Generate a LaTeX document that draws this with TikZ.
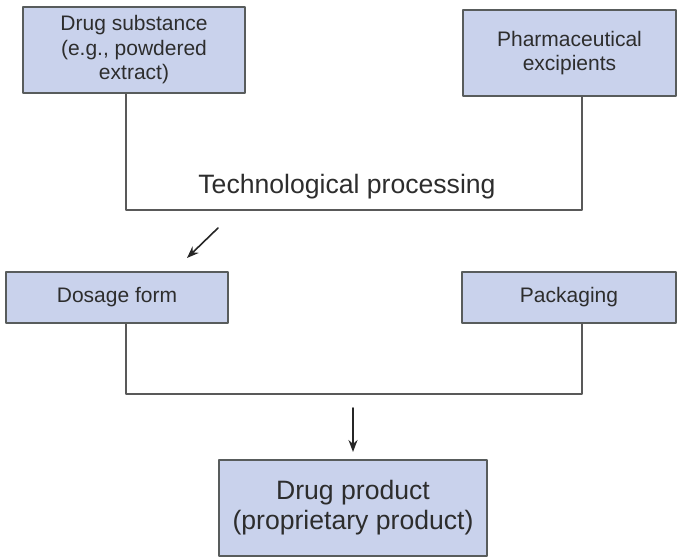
\documentclass[tikz,border=0pt]{standalone}
\usepackage{fontspec}
\setmainfont{Liberation Sans}
\usetikzlibrary{arrows.meta}
\definecolor{boxfill}{RGB}{201,210,236}
\definecolor{boxline}{RGB}{88,92,92}
\definecolor{txt}{RGB}{45,45,45}
\begin{document}
\begin{tikzpicture}[x=1pt,y=-1pt,line join=round,line cap=round,
	box/.style={draw=boxline,line width=1.6pt,fill=boxfill,inner sep=0pt,
		align=center,text=txt,font=\fontsize{21}{24.5}\selectfont},
	bigbox/.style={box,font=\fontsize{26.6}{30}\selectfont},
	link/.style={draw=black!65,line width=1.3pt},
	>={Stealth[length=12pt,width=9pt]}]
	\useasboundingbox (0,0) rectangle (678,557);
	% raw materials
	\node[box,minimum width=222pt,minimum height=86pt] (ds) at (134,50)
	{Drug substance\\(e.g., powdered\\extract)};
	\node[box,minimum width=213pt,minimum height=86pt] (exc) at (569.5,53)
	{Pharmaceutical\\excipients};
	% intermediate
	\node[box,minimum width=222pt,minimum height=51pt] (dose) at (117,297.5)
	{Dosage form};
	\node[box,minimum width=214pt,minimum height=51pt] (pack) at (569,297.5)
	{Packaging};
	% final
	\node[bigbox,minimum width=268pt,minimum height=96pt] (prod) at (353,508)
	{Drug product\\(proprietary product)};
	\path (126,210) coordinate (tl)
	(582,210) coordinate (tr)
	(126,394) coordinate (bl)
	(582,394) coordinate (br)
	(218,228) coordinate (a1)
	(187,258) coordinate (a2)
	(353,408) coordinate (a3)
	(353,452) coordinate (a4);
	\draw[link] (ds.south -| tl)--(tl)--(tr)--(exc.south -| tr);
	\draw[link] (dose.south -| bl)--(bl)--(br)--(pack.south -| br);
	\node[text=txt,font=\fontsize{26.6}{30}\selectfont,anchor=base] (tp) at (347,193)
	{Technological processing};
	\foreach\s/\e in {a1/a2,a3/a4}
	{\draw[->,line width=1.6pt,draw=black!85,fill=black!85] (\s)--(\e);}
\end{tikzpicture}
\end{document}
